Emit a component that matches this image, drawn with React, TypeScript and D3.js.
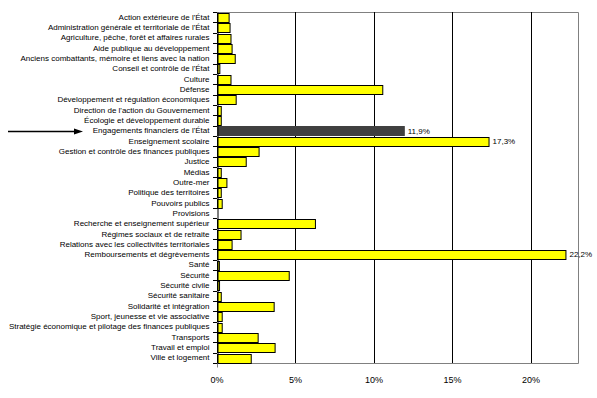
import React, { useEffect, useRef } from "react";
import * as d3 from "d3";

const categories = [
  "Action extérieure de l'État",
  "Administration générale et territoriale de l'État",
  "Agriculture, pêche, forêt et affaires rurales",
  "Aide publique au développement",
  "Anciens combattants, mémoire et liens avec la nation",
  "Conseil et contrôle de l'État",
  "Culture",
  "Défense",
  "Développement et régulation économiques",
  "Direction de l'action du Gouvernement",
  "Écologie et développement durable",
  "Engagements financiers de l'État",
  "Enseignement scolaire",
  "Gestion et contrôle des finances publiques",
  "Justice",
  "Médias",
  "Outre-mer",
  "Politique des territoires",
  "Pouvoirs publics",
  "Provisions",
  "Recherche et enseignement supérieur",
  "Régimes sociaux et de retraite",
  "Relations avec les collectivités territoriales",
  "Remboursements et dégrèvements",
  "Santé",
  "Sécurité",
  "Sécurité civile",
  "Sécurité sanitaire",
  "Solidarité et intégration",
  "Sport, jeunesse et vie associative",
  "Stratégie économique et pilotage des finances publiques",
  "Transports",
  "Travail et emploi",
  "Ville et logement",
];

// share of the budget, in %
const values = [
  0.74, 0.8, 0.86, 0.93, 1.13, 0.15, 0.86, 10.53, 1.19, 0.24, 0.24, 11.9,
  17.3, 2.65, 1.83, 0.24, 0.6, 0.24, 0.3, 0, 6.24, 1.5, 0.93, 22.2, 0.12,
  4.57, 0.13, 0.24, 3.61, 0.3, 0.3, 2.59, 3.67, 2.15,
];

const labelled = ["Engagements financiers de l'État", "Enseignement scolaire", "Remboursements et dégrèvements"];
const highlighted = "Engagements financiers de l'État";
const xTicks = [0, 5, 10, 15, 20];

const W = 597;
const H = 398;
const margin = { top: 12, right: 19, bottom: 35, left: 217 };

const App: React.FC = () => {
  const svgRef = useRef<SVGSVGElement | null>(null);

  useEffect(() => {
    const svg = d3.select(svgRef.current);
    svg.selectAll("*").remove();

    const data = categories.map((c, i) => ({ name: c, value: values[i] }));
    const x = d3.scaleLinear().domain([0, 23]).range([margin.left, W - margin.right]);
    const y = d3
      .scaleBand()
      .domain(categories)
      .range([margin.top, H - margin.bottom])
      .paddingInner(0.17)
      .paddingOuter(0.085);
    const x0 = margin.left;
    const x1 = W - margin.right;
    const y0 = margin.top;
    const y1 = H - margin.bottom;

    // plot frame (grey top/right/bottom)
    svg
      .append("path")
      .attr("d", `M${x0},${y0 + 0.5}H${x1 + 0.5}V${y1 + 0.5}H${x0}`)
      .attr("fill", "none")
      .attr("stroke", "#808080");

    // vertical gridlines
    svg
      .append("g")
      .selectAll("line")
      .data(xTicks.filter((t) => t > 0))
      .enter()
      .append("line")
      .attr("x1", (d) => Math.round(x(d)) + 0.5)
      .attr("x2", (d) => Math.round(x(d)) + 0.5)
      .attr("y1", y0)
      .attr("y2", y1)
      .attr("stroke", "#000");

    // bars
    svg
      .append("g")
      .selectAll("rect")
      .data(data.filter((d) => d.value > 0))
      .enter()
      .append("rect")
      .attr("x", x0 + 0.5)
      .attr("y", (d) => Math.round(y(d.name) as number) + 0.5)
      .attr("width", (d) => Math.max(1, x(d.value) - x0))
      .attr("height", Math.round(y.bandwidth()))
      .attr("fill", (d) => (d.name === highlighted ? "#404040" : "#ffff00"))
      .attr("stroke", (d) => (d.name === highlighted ? "#404040" : "#000"))
      .attr("stroke-width", 1);

    // value labels
    svg
      .append("g")
      .selectAll("text")
      .data(data.filter((d) => labelled.includes(d.name)))
      .enter()
      .append("text")
      .attr("x", (d) => x(d.value) + 4)
      .attr("y", (d) => (y(d.name) as number) + y.bandwidth() / 2)
      .attr("dy", "0.35em")
      .attr("font-family", "Liberation Sans, Arial, sans-serif")
      .attr("font-size", 8)
      .text((d) => d3.format(".1f")(d.value).replace(".", ",") + "%");

    // left axis
    const yAxis = d3.axisLeft(y).tickSize(0).tickPadding(8);
    const gy = svg.append("g").attr("transform", `translate(${x0 + 0.5},0)`).call(yAxis);
    gy.select(".domain").attr("stroke", "#000");
    gy.selectAll("text")
      .attr("font-family", "Liberation Sans, Arial, sans-serif")
      .attr("font-size", 8)
      .attr("fill", "#000");
    // tick marks between categories
    const step = y.step();
    svg
      .append("g")
      .selectAll("line")
      .data(d3.range(categories.length + 1))
      .enter()
      .append("line")
      .attr("x1", x0 - 4)
      .attr("x2", x0)
      .attr("y1", (i) => Math.round(y0 + i * ((y1 - y0) / categories.length)) + 0.5)
      .attr("y2", (i) => Math.round(y0 + i * ((y1 - y0) / categories.length)) + 0.5)
      .attr("stroke", "#000");
    void step;

    // bottom axis labels
    const gx = svg.append("g").attr("transform", `translate(0,${y1 + 0.5})`);
    gx.selectAll("text")
      .data(xTicks)
      .enter()
      .append("text")
      .attr("x", (d) => x(d))
      .attr("y", 19)
      .attr("text-anchor", "middle")
      .attr("font-family", "Liberation Sans, Arial, sans-serif")
      .attr("font-size", 9)
      .text((d) => d + "%");
    gx.append("line")
      .attr("x1", x0 + 0.5)
      .attr("x2", x0 + 0.5)
      .attr("y1", 0)
      .attr("y2", 4)
      .attr("stroke", "#808080");

    // arrow pointing at the highlighted row
    const ay = Math.round((y(highlighted) as number) + y.bandwidth() / 2) + 0.5;
    svg
      .append("line")
      .attr("x1", 8)
      .attr("x2", 76)
      .attr("y1", ay)
      .attr("y2", ay)
      .attr("stroke", "#000")
      .attr("stroke-width", 1.5);
    svg
      .append("path")
      .attr("d", `M74,${ay - 3}L83,${ay}L74,${ay + 3}Z`)
      .attr("fill", "#000");
  }, []);

  return (
    <svg
      ref={svgRef}
      width={W}
      height={H}
      style={{ position: "absolute", left: 0, top: 0, background: "#fff" }}
    ></svg>
  );
};

export default App;
